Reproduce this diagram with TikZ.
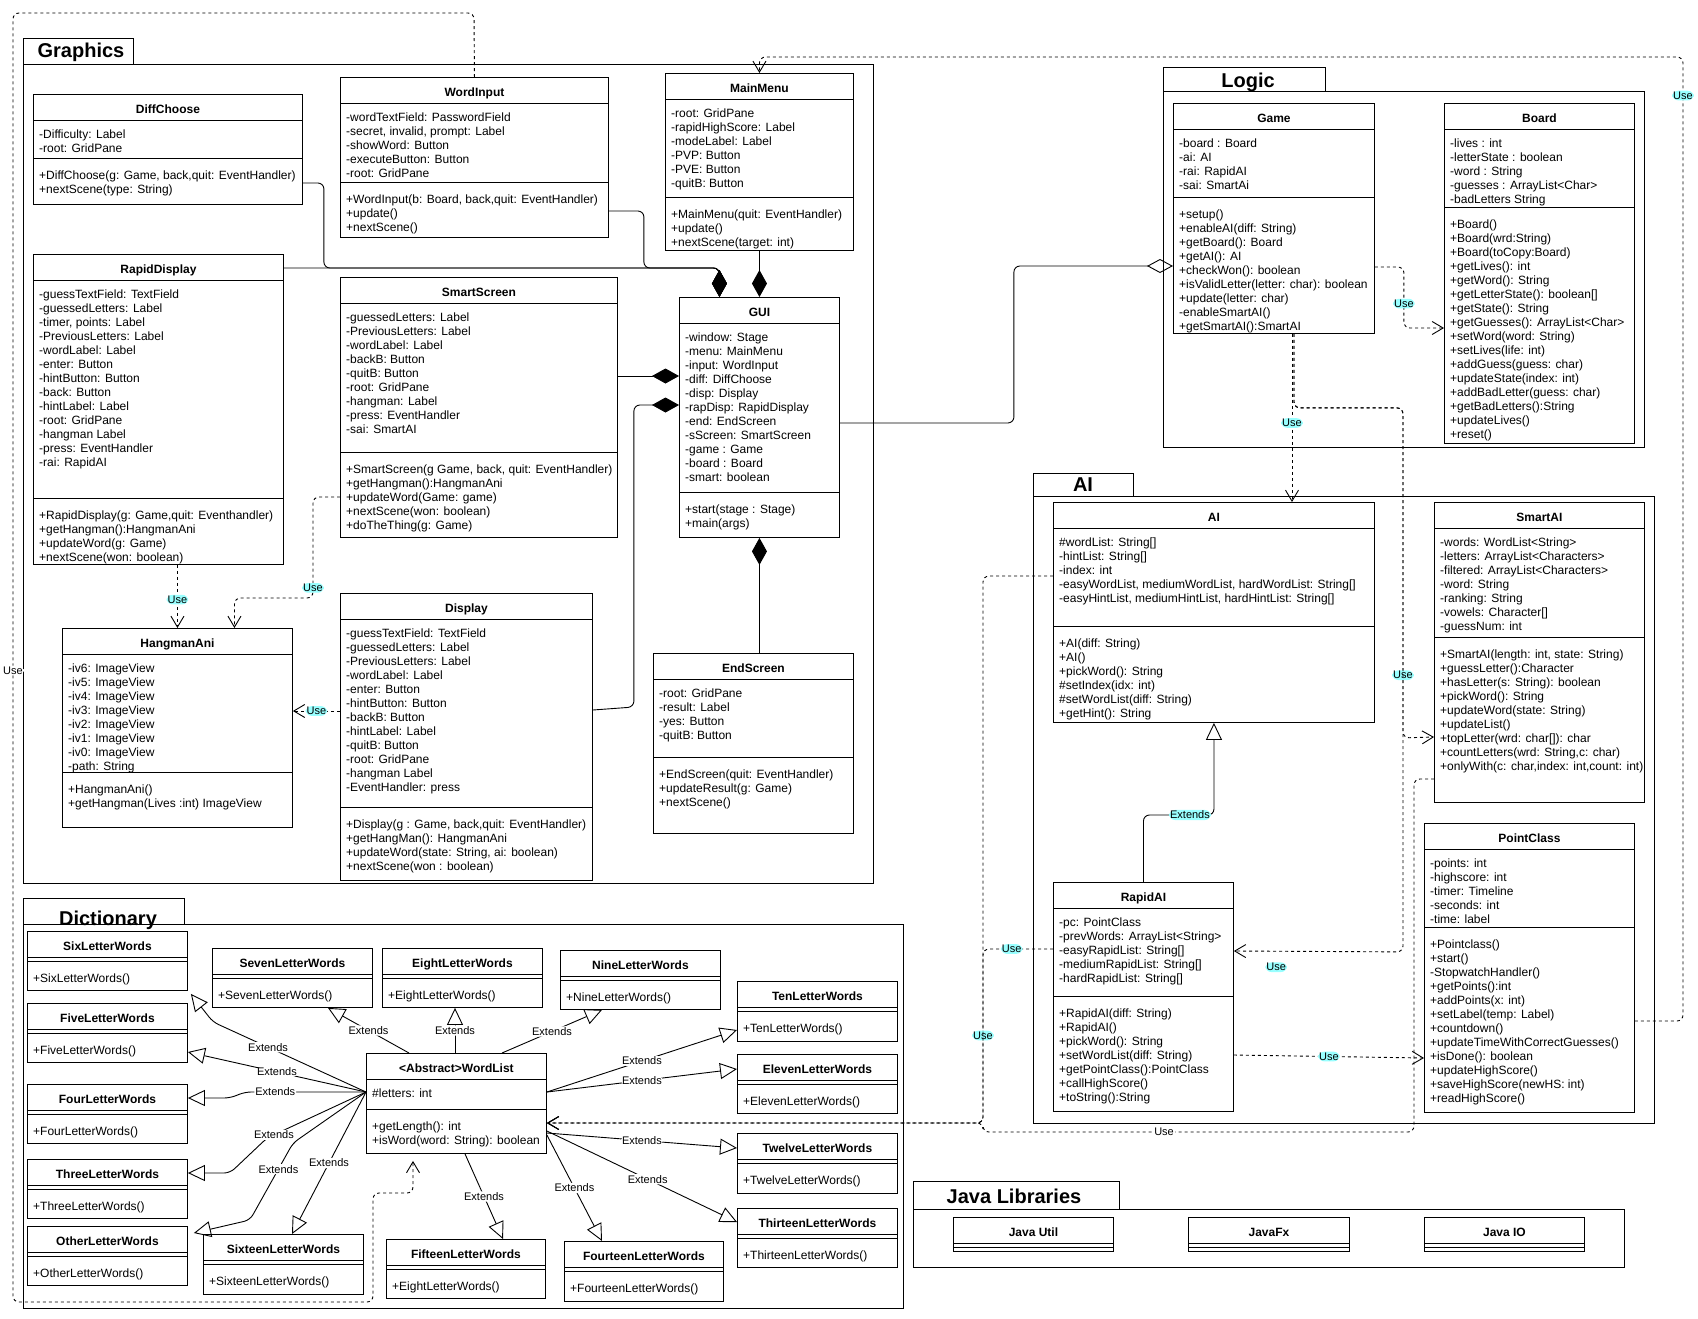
\documentclass[tikz,border=0pt]{standalone}
\usepackage{fontspec}
\setmainfont{Liberation Sans}
\usetikzlibrary{arrows.meta}

\definecolor{usebg}{RGB}{153,255,255}

\tikzset{
    classbox/.style={draw, line width=0.9pt, fill=white, inner sep=0pt, anchor=north west},
    classline/.style={line width=0.9pt},
    classtitle/.style={font=\bfseries\fontsize{12}{14}\selectfont, inner sep=0pt, anchor=base},
    member/.style={font=\fontsize{12}{14}\selectfont, inner sep=0pt, anchor=base west},
    pkgbox/.style={draw, line width=0.9pt, inner sep=0pt, anchor=north west},
    pkglabel/.style={font=\bfseries\fontsize{20}{24}\selectfont, inner sep=0pt, anchor=base},
    comp/.style={line width=0.9pt, rounded corners=6pt, -{Diamond[length=27pt,width=15pt]}},
    aggr/.style={line width=0.9pt, rounded corners=6pt, -{Diamond[open,length=26pt,width=14pt]}},
    use/.style={line width=0.9pt, dash pattern=on 3pt off 3pt, rounded corners=6pt, -{Straight Barb[length=11pt,width=13pt]}},
    ext/.style={line width=0.9pt, rounded corners=6pt, -{Triangle[open,length=17pt,width=16pt]}},
    lbl/.style={font=\fontsize{11}{13}\selectfont, text=black, fill=usebg, inner sep=1pt},
    lblw/.style={font=\fontsize{11}{13}\selectfont, text=black, fill=white, inner sep=1pt}
}

\newcommand\umlclass[6]{
    \node[classbox, minimum width=#4pt, minimum height=#5pt] (#1) at (#2,#3) {};
    \node[classtitle] (#1-title) at ([shift={(0,19)}]#1.north) {#6};
    \draw[classline] ([shift={(0,26)}]#1.north west) -- ([shift={(0,26)}]#1.north east);
}
\newcommand\umldivider[2]{
    \draw[classline] ([shift={(0,#2)}]#1.north west) -- ([shift={(0,#2)}]#1.north east);
}
\newcommand\umlattrs[2]{
    \foreach \txt [count=\i] in {#2}
        \node[member] (#1-a\i) at ([shift={(6,30+14*\i)}]#1.north west) {\txt};
}
\newcommand\umlmethods[3]{
    \umldivider{#1}{#2}
    \foreach \txt [count=\i] in {#3}
        \node[member] (#1-m\i) at ([shift={(6,#2+7.5+14*\i)}]#1.north west) {\txt};
}

\begin{document}
\begin{tikzpicture}[x=1pt, y=-1pt]
    \useasboundingbox (0,0) rectangle (1698,1318);

    \node[pkgbox, minimum width=110pt, minimum height=26pt] (graphicstab) at (23,38) {};
    \node[pkgbox, minimum width=850pt, minimum height=819pt] (graphics) at (23,64) {};
    \node[pkglabel] (graphicslbl) at (81,57) {Graphics};

    \node[pkgbox, minimum width=162pt, minimum height=24pt] (logictab) at (1163,67) {};
    \node[pkgbox, minimum width=481pt, minimum height=356pt] (logic) at (1163,91) {};
    \node[pkglabel] (logiclbl) at (1248,87) {Logic};

    \node[pkgbox, minimum width=100pt, minimum height=23pt] (aitab) at (1033,473) {};
    \node[pkgbox, minimum width=621pt, minimum height=627pt] (aipkg) at (1033,496) {};
    \node[pkglabel] (ailbl) at (1083,491) {AI};

    \node[pkgbox, minimum width=161pt, minimum height=26pt] (dicttab) at (23,898) {};
    \node[pkgbox, minimum width=880pt, minimum height=384pt] (dict) at (23,924) {};
    \node[pkglabel] (dictlbl) at (108,925) {Dictionary};

    \node[pkgbox, minimum width=206pt, minimum height=28pt] (javatab) at (913,1181) {};
    \node[pkgbox, minimum width=711pt, minimum height=58pt] (java) at (913,1209) {};
    \node[pkglabel] (javalbl) at (1014,1203) {Java Libraries};

    \umlclass{diff}{33}{94}{269}{110}{DiffChoose}
    \umlattrs{diff}{-Difficulty: Label, -root: GridPane}
    \umlmethods{diff}{64}{{+DiffChoose(g: Game, back,quit: EventHandler)}, +nextScene(type: String)}

    \umlclass{winput}{340}{77}{268}{160}{WordInput}
    \umlattrs{winput}{-wordTextField: PasswordField, {-secret, invalid, prompt: Label}, -showWord: Button, -executeButton: Button, -root: GridPane}
    \umlmethods{winput}{105}{{+WordInput(b: Board, back,quit: EventHandler)}, +update(), +nextScene()}

    \umlclass{menu}{665}{73}{188}{177}{MainMenu}
    \umlattrs{menu}{-root: GridPane, -rapidHighScore: Label, -modeLabel: Label, -PVP: Button, -PVE: Button, -quitB: Button}
    \umlmethods{menu}{124}{+MainMenu(quit: EventHandler), +update(), +nextScene(target: int)}

    \umlclass{gui}{679}{297}{160}{240}{GUI}
    \umlattrs{gui}{-window: Stage, -menu: MainMenu, -input: WordInput, -diff: DiffChoose, -disp: Display, -rapDisp: RapidDisplay, -end: EndScreen, -sScreen: SmartScreen, -game : Game, -board : Board, -smart: boolean}
    \umlmethods{gui}{195}{+start(stage : Stage), +main(args)}

    \umlclass{rapdisp}{33}{254}{250}{310}{RapidDisplay}
    \umlattrs{rapdisp}{-guessTextField: TextField, -guessedLetters: Label, {-timer, points: Label}, -PreviousLetters: Label, -wordLabel: Label, -enter: Button, -hintButton: Button, -back: Button, -hintLabel: Label, -root: GridPane, -hangman Label, -press: EventHandler, -rai: RapidAI}
    \umlmethods{rapdisp}{244}{{+RapidDisplay(g: Game,quit: Eventhandler)}, +getHangman():HangmanAni, +updateWord(g: Game), +nextScene(won: boolean)}

    \umlclass{sscreen}{340}{277}{277}{260}{SmartScreen}
    \umlattrs{sscreen}{-guessedLetters: Label, -PreviousLetters: Label, -wordLabel: Label, -backB: Button, -quitB: Button, -root: GridPane, -hangman: Label, -press: EventHandler, -sai: SmartAI}
    \umlmethods{sscreen}{175}{{+SmartScreen(g Game, back, quit: EventHandler)}, +getHangman():HangmanAni, +updateWord(Game: game), +nextScene(won: boolean), +doTheThing(g: Game)}

    \umlclass{hang}{62}{628}{230}{199}{HangmanAni}
    \umlattrs{hang}{-iv6: ImageView, -iv5: ImageView, -iv4: ImageView, -iv3: ImageView, -iv2: ImageView, -iv1: ImageView, -iv0: ImageView, -path: String}
    \umlmethods{hang}{144}{+HangmanAni(), +getHangman(Lives :int) ImageView}

    \umlclass{disp}{340}{593}{252}{287}{Display}
    \umlattrs{disp}{-guessTextField: TextField, -guessedLetters: Label, -PreviousLetters: Label, -wordLabel: Label, -enter: Button, -hintButton: Button, -backB: Button, -hintLabel: Label, -quitB: Button, -root: GridPane, -hangman Label, -EventHandler: press}
    \umlmethods{disp}{214}{{+Display(g : Game, back,quit: EventHandler)}, +getHangMan(): HangmanAni, {+updateWord(state: String, ai: boolean)}, +nextScene(won : boolean)}

    \umlclass{endscr}{653}{653}{200}{180}{EndScreen}
    \umlattrs{endscr}{-root: GridPane, -result: Label, -yes: Button, -quitB: Button}
    \umlmethods{endscr}{104}{+EndScreen(quit: EventHandler), +updateResult(g: Game), +nextScene()}

    \umlclass{game}{1173}{103}{201}{230}{Game}
    \umlattrs{game}{-board : Board, -ai: AI, -rai: RapidAI, -sai: SmartAi}
    \umlmethods{game}{94}{+setup(), +enableAI(diff: String), +getBoard(): Board, +getAI(): AI, +checkWon(): boolean, +isValidLetter(letter: char): boolean, +update(letter: char), -enableSmartAI(), +getSmartAI():SmartAI}

    \umlclass{board}{1444}{103}{190}{340}{Board}
    \umlattrs{board}{-lives : int, -letterState : boolean, -word : String, -guesses : ArrayList<Char>, -badLetters String}
    \umlmethods{board}{104}{+Board(), +Board(wrd:String), +Board(toCopy:Board), +getLives(): int, +getWord(): String, +getLetterState(): boolean[], +getState(): String, +getGuesses(): ArrayList<Char>, +setWord(word: String), +setLives(life: int), +addGuess(guess: char), +updateState(index: int), +addBadLetter(guess: char), +getBadLetters():String, +updateLives(), +reset()}

    \umlclass{ai}{1053}{502}{321}{220}{AI}
    \umlattrs{ai}{\#wordList: String[], -hintList: String[], -index: int, {-easyWordList, mediumWordList, hardWordList: String[]}, {-easyHintList, mediumHintList, hardHintList: String[]}}
    \umlmethods{ai}{124}{+AI(diff: String), +AI(), +pickWord(): String, \#setIndex(idx: int), \#setWordList(diff: String), +getHint(): String}

    \umlclass{sai}{1434}{502}{210}{300}{SmartAI}
    \umlattrs{sai}{-words: WordList<String>, -letters: ArrayList<Characters>, -filtered: ArrayList<Characters>, -word: String, -ranking: String, -vowels: Character[], -guessNum: int}
    \umlmethods{sai}{135}{{+SmartAI(length: int, state: String)}, +guessLetter():Character, +hasLetter(s: String): boolean, +pickWord(): String, +updateWord(state: String), +updateList(), +topLetter(wrd: char[]): char, {+countLetters(wrd: String,c: char)}, {+onlyWith(c: char,index: int,count: int)}}

    \umlclass{pclass}{1424}{823}{210}{289}{PointClass}
    \umlattrs{pclass}{-points: int, -highscore: int, -timer: Timeline, -seconds: int, -time: label}
    \umlmethods{pclass}{104}{+Pointclass(), +start(), -StopwatchHandler(), +getPoints():int, +addPoints(x: int), +setLabel(temp: Label), +countdown(), +updateTimeWithCorrectGuesses(), +isDone(): boolean, +updateHighScore(), +saveHighScore(newHS: int), +readHighScore()}

    \umlclass{rai}{1053}{882}{180}{229}{RapidAI}
    \umlattrs{rai}{-pc: PointClass, -prevWords: ArrayList<String>, -easyRapidList: String[], -mediumRapidList: String[], -hardRapidList: String[]}
    \umlmethods{rai}{114}{+RapidAI(diff: String), +RapidAI(), +pickWord(): String, +setWordList(diff: String), +getPointClass():PointClass, +callHighScore(), +toString():String}

    \umlclass{wlist}{366}{1053}{180}{100}{<Abstract>WordList}
    \umlattrs{wlist}{\#letters: int}
    \umlmethods{wlist}{56}{+getLength(): int, +isWord(word: String): boolean}

    \umlclass{six}{27}{931}{160}{59}{SixLetterWords}
    \umlmethods{six}{30}{+SixLetterWords()}
    \umlclass{five}{27}{1003}{160}{59}{FiveLetterWords}
    \umlmethods{five}{30}{+FiveLetterWords()}
    \umlclass{four}{27}{1084}{160}{59}{FourLetterWords}
    \umlmethods{four}{30}{+FourLetterWords()}
    \umlclass{three}{27}{1159}{160}{59}{ThreeLetterWords}
    \umlmethods{three}{30}{+ThreeLetterWords()}
    \umlclass{other}{27}{1226}{160}{59}{OtherLetterWords}
    \umlmethods{other}{30}{+OtherLetterWords()}
    \umlclass{seven}{212}{948}{160}{59}{SevenLetterWords}
    \umlmethods{seven}{30}{+SevenLetterWords()}
    \umlclass{eight}{382}{948}{160}{59}{EightLetterWords}
    \umlmethods{eight}{30}{+EightLetterWords()}
    \umlclass{nine}{560}{950}{160}{59}{NineLetterWords}
    \umlmethods{nine}{30}{+NineLetterWords()}
    \umlclass{ten}{737}{981}{160}{60}{TenLetterWords}
    \umlmethods{ten}{30}{+TenLetterWords()}
    \umlclass{eleven}{737}{1054}{160}{59}{ElevenLetterWords}
    \umlmethods{eleven}{30}{+ElevenLetterWords()}
    \umlclass{twelve}{737}{1133}{160}{60}{TwelveLetterWords}
    \umlmethods{twelve}{30}{+TwelveLetterWords()}
    \umlclass{thirteen}{737}{1208}{160}{59}{ThirteenLetterWords}
    \umlmethods{thirteen}{30}{+ThirteenLetterWords()}
    \umlclass{fourteen}{564}{1241}{159}{60}{FourteenLetterWords}
    \umlmethods{fourteen}{30}{+FourteenLetterWords()}
    \umlclass{fifteen}{386}{1239}{159}{59}{FifteenLetterWords}
    \umlmethods{fifteen}{30}{+EightLetterWords()}
    \umlclass{sixteen}{203}{1234}{160}{60}{SixteenLetterWords}
    \umlmethods{sixteen}{30}{+SixteenLetterWords()}

    \umlclass{jutil}{953}{1217}{160}{34}{Java Util}
    \umldivider{jutil}{30}
    \umlclass{jfx}{1188}{1217}{161}{34}{JavaFx}
    \umldivider{jfx}{30}
    \umlclass{jio}{1424}{1217}{160}{34}{Java IO}
    \umldivider{jio}{30}

    \draw[comp] ([shift={(0,89)}]diff.north east) -- ++(21,0) |- ([shift={(-40,-29)}]gui.north) -- ([shift={(-40,0)}]gui.north);
    \draw[comp] ([shift={(0,14)}]rapdisp.north east) -- ([shift={(-40,-29)}]gui.north) -- ([shift={(-40,0)}]gui.north);
    \draw[comp] ([shift={(0,134)}]winput.north east) -- ++(35,0) |- ([shift={(-40,-29)}]gui.north) -- ([shift={(-40,0)}]gui.north);
    \draw[comp] (menu.south) -- (gui.north);
    \draw[comp] ([shift={(0,99)}]sscreen.north east) -- ([shift={(0,79)}]gui.north west);
    \draw[comp] ([shift={(0,117)}]disp.north east) -- ++(41,-3) |- ([shift={(0,108)}]gui.north west);
    \draw[comp] (gui.south |- endscr.north) -- (gui.south);
    \draw[aggr] ([shift={(0,126)}]gui.north east) -- ++(174,0) |- ([shift={(0,163)}]game.north west);

    \draw[use] (hang.north |- rapdisp.south) -- (hang.north) node[lbl, pos=0.55] (u1) {Use};
    \draw[use] ([shift={(0,220)}]sscreen.north west) -- ++(-27,0) |- ([shift={(57,-30)}]hang.north) node[lbl, pos=0.45] (u2) {Use} -- ([shift={(57,0)}]hang.north);
    \coordinate (dispuse) at ([shift={(0,118)}]disp.north west);
    \draw[use] (dispuse) -- (dispuse -| hang.east) node[lbl, midway] (u3) {Use};
    \draw[use] (winput.north) -- (474,13) -- (13,13) -- node[lblw, pos=0.51] (u4) {Use} (13,1302) -- (373,1302) -- (373,1193) -- (413,1193) -- ([shift={(47,7)}]wlist.south west);
    \draw[use] ([shift={(0,198)}]pclass.north east) -- (1683,1021) -- node[lbl, pos=0.96] (u5) {Use} (1683,57) -| (menu.north);

    \draw[use] ([shift={(0,164)}]game.north east) -- ++(29,0) |- ([shift={(0,225)}]board.north west) node[lbl, pos=0.3] (u6) {Use};
    \draw[use] ([shift={(119,0)}]game.south west) -- node[lbl, pos=0.53] (u7) {Use} ([shift={(239,0)}]ai.north west);
    \draw[use] ([shift={(121,0)}]game.south west) -- ++(0,74) -- ++(109,0) -- node[lbl, pos=0.81] (u8) {Use} ++(0,330) -- ([shift={(0,235)}]sai.north west);
    \draw[use] ([shift={(121,0)}]game.south west) -- ++(0,74) -- ++(109,0) -- ++(0,544) -- ([shift={(0,69)}]rai.north east) node[lbl, pos=0.75, yshift=-16pt] (u9) {Use};
    \draw[use] ([shift={(0,173)}]rai.north east) -- node[lbl] (u10) {Use} ([shift={(0,235)}]pclass.north west);
    \draw[ext] (rai.north) -- ++(0,-67) -| node[lbl, pos=0.33] (e1) {Extends} (ai.south);

    \draw[use] ([shift={(0,74)}]ai.north west) -- ++(-70,0) -- node[lbl, pos=0.84] (u11) {Use} ++(0,547) -- ([shift={(0,70)}]wlist.north east);
    \draw[use] ([shift={(0,67)}]rai.north west) -- node[lbl, pos=0.59] (u12) {Use} ++(-70,0) |- ([shift={(0,70)}]wlist.north east);
    \draw[use] ([shift={(0,277)}]sai.north west) -- ++(-20,0) -- ++(0,353) -- node[lblw, pos=0.58] (u13) {Use} ++(-431,0) -- ++(0,-9) -- ([shift={(0,70)}]wlist.north east);

    \draw[ext] ([shift={(0,39)}]wlist.north west) -- node[lblw, pos=0.64] (e2) {Extends} (213,1022) -- ([shift={(3,3)}]six.south east);
    \draw[ext] ([shift={(0,39)}]wlist.north west) -- node[lblw] (e3) {Extends} ([shift={(0,49)}]five.north east);
    \draw[ext] ([shift={(0,39)}]wlist.north west) -- node[lblw, pos=0.75] (e4) {Extends} ++(-121,0) -- ++(-15,6) -- ([shift={(0,14)}]four.north east);
    \draw[ext] ([shift={(0,39)}]wlist.north west) -- node[lblw, pos=0.93] (e5) {Extends} (267,1138) -- (230,1173) -- ([shift={(0,14)}]three.north east);
    \draw[ext] ([shift={(0,39)}]wlist.north west) -- (293,1143) -- node[lblw, pos=0.34] (e6) {Extends} (250,1220) -- ([shift={(6,7)}]other.north east);
    \draw[ext] ([shift={(0,39)}]wlist.north west) -- node[lblw] (e7) {Extends} ([shift={(89,0)}]sixteen.north west);
    \draw[ext] ([shift={(43,0)}]wlist.north west) -- node[lblw] (e8) {Extends} ([shift={(116,0)}]seven.south west);
    \draw[ext] ([shift={(89,0)}]wlist.north west) -- node[lblw] (e9) {Extends} ([shift={(73,0)}]eight.south west);
    \draw[ext] ([shift={(136,0)}]wlist.north west) -- node[lblw] (e10) {Extends} ([shift={(42,0)}]nine.south west);
    \draw[ext] ([shift={(0,39)}]wlist.north east) -- node[lblw] (e11) {Extends} ([shift={(0,49)}]ten.north west);
    \draw[ext] ([shift={(0,39)}]wlist.north east) -- node[lblw] (e12) {Extends} ([shift={(0,15)}]eleven.north west);
    \draw[ext] ([shift={(0,80)}]wlist.north east) -- node[lblw] (e13) {Extends} ([shift={(0,15)}]twelve.north west);
    \draw[ext] ([shift={(0,78)}]wlist.north east) -- node[lblw, pos=0.53] (e14) {Extends} ([shift={(0,14)}]thirteen.north west);
    \draw[ext] ([shift={(0,82)}]wlist.north east) -- node[lblw] (e15) {Extends} ([shift={(38,0)}]fourteen.north west);
    \draw[ext] ([shift={(99,0)}]wlist.south west) -- node[lblw] (e16) {Extends} ([shift={(117,0)}]fifteen.north west);
\end{tikzpicture}
\end{document}
